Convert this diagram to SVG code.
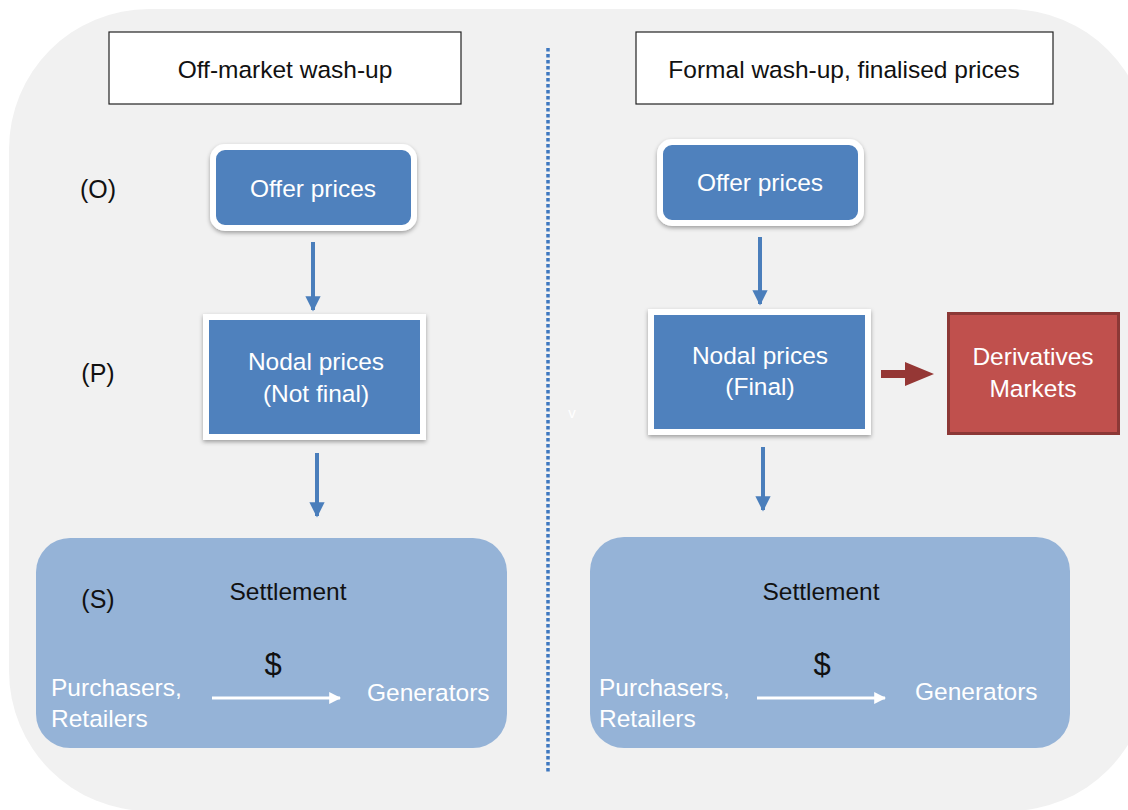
<svg xmlns="http://www.w3.org/2000/svg" width="1128" height="810" viewBox="0 0 1128 810">
<defs>
<style>
text{font-family:"Liberation Sans",Arial,sans-serif}
.hdr{fill:#fff;stroke:#222;stroke-width:1.2}
.ht{font-size:24.5px;fill:#111;text-anchor:middle}
.wt{font-size:24.5px;fill:#fff;text-anchor:middle}
.wl{font-size:24.5px;fill:#fff}
.bt{font-size:24.5px;fill:#111;text-anchor:middle}
.dol{font-size:31px;fill:#111;text-anchor:middle}
.lb{font-size:25px;fill:#111;text-anchor:middle}
.blue{fill:#4f81bd;stroke:#fff;stroke-width:6}
.settle{fill:#95b3d7}
.barrow{stroke:#4a7ebb;stroke-width:4;fill:none;marker-end:url(#bh)}
.warrow{stroke:#fff;stroke-width:3;fill:none;marker-end:url(#wh)}
</style>
<marker id="bh" viewBox="0 0 10 10" refX="9" refY="5" markerWidth="3.8" markerHeight="3.8" orient="auto" markerUnits="strokeWidth"><path d="M0,0 L10,5 L0,10 z" fill="#4a7ebb"/></marker>
<marker id="wh" viewBox="0 0 10 10" refX="9" refY="5" markerWidth="4" markerHeight="4" orient="auto" markerUnits="strokeWidth"><path d="M0,0 L10,5 L0,10 z" fill="#fff"/></marker>
<filter id="sh" x="-10%" y="-10%" width="120%" height="130%"><feDropShadow dx="0" dy="2" stdDeviation="2" flood-color="#000" flood-opacity="0.35"/></filter>
</defs>
<rect width="1128" height="810" fill="#fff"/>
<rect x="9" y="9" width="1140" height="802" rx="140" ry="140" fill="#f1f1f1"/>
<line x1="548" y1="48" x2="548" y2="772" stroke="#3f78c0" stroke-width="3.5" stroke-dasharray="3.5 2.5"/>
<text x="572" y="418" font-size="15" fill="#fff" text-anchor="middle">v</text>

<g id="hdr-left"><rect class="hdr" x="109" y="32" width="352" height="72"/><text class="ht" x="285" y="78">Off-market wash-up</text></g>
<g id="hdr-right"><rect class="hdr" x="636" y="32" width="417" height="72"/><text class="ht" x="844" y="78">Formal wash-up, finalised prices</text></g>

<g id="lbl-O"><text class="lb" x="98" y="198">(O)</text></g>
<g id="lbl-P"><text class="lb" x="98" y="382">(P)</text></g>

<g id="offer-left"><rect class="blue" x="213" y="147" width="201" height="81" rx="12" filter="url(#sh)"/><text class="wt" x="313" y="197">Offer prices</text></g>
<g id="nodal-left"><rect class="blue" x="206" y="317" width="217" height="120" filter="url(#sh)"/><text class="wt" x="316" y="370">Nodal prices</text><text class="wt" x="316" y="402">(Not final)</text></g>

<g id="settle-left"><rect class="settle" x="36" y="538" width="471" height="210" rx="34"/>
<text class="lb" x="98" y="608">(S)</text>
<text class="bt" x="288" y="600">Settlement</text>
<text class="dol" x="273" y="675">$</text>
<text class="wl" x="51" y="696">Purchasers,</text><text class="wl" x="51" y="727">Retailers</text>
<text class="wl" x="367" y="701">Generators</text>
<line class="warrow" x1="212" y1="698" x2="340" y2="698"/>
</g>

<g id="offer-right"><rect class="blue" x="660" y="142" width="201" height="81" rx="12" filter="url(#sh)"/><text class="wt" x="760" y="191">Offer prices</text></g>
<g id="nodal-right"><rect class="blue" x="651" y="312" width="217" height="120" filter="url(#sh)"/><text class="wt" x="760" y="364">Nodal prices</text><text class="wt" x="760" y="395">(Final)</text></g>
<g id="deriv"><rect x="948.5" y="313.5" width="170" height="120" fill="#c0504d" stroke="#8c3836" stroke-width="3"/><text class="wt" x="1033" y="365">Derivatives</text><text class="wt" x="1033" y="397">Markets</text></g>

<g id="settle-right"><rect class="settle" x="590" y="537" width="480" height="211" rx="34"/>
<text class="bt" x="821" y="600">Settlement</text>
<text class="dol" x="822" y="675">$</text>
<text class="wl" x="599" y="696">Purchasers,</text><text class="wl" x="599" y="727">Retailers</text>
<text class="wl" x="915" y="700">Generators</text>
<line class="warrow" x1="757" y1="698" x2="885" y2="698"/>
</g>

<g id="connectors">
<line class="barrow" x1="313" y1="242" x2="313" y2="310"/>
<line class="barrow" x1="317" y1="453" x2="317" y2="516"/>
<line class="barrow" x1="760" y1="237" x2="760" y2="304"/>
<line class="barrow" x1="763" y1="447" x2="763" y2="510"/>
<path d="M881,370 L905,370 L905,362 L934,374 L905,386 L905,378 L881,378 z" fill="#953735"/>
</g>
</svg>
